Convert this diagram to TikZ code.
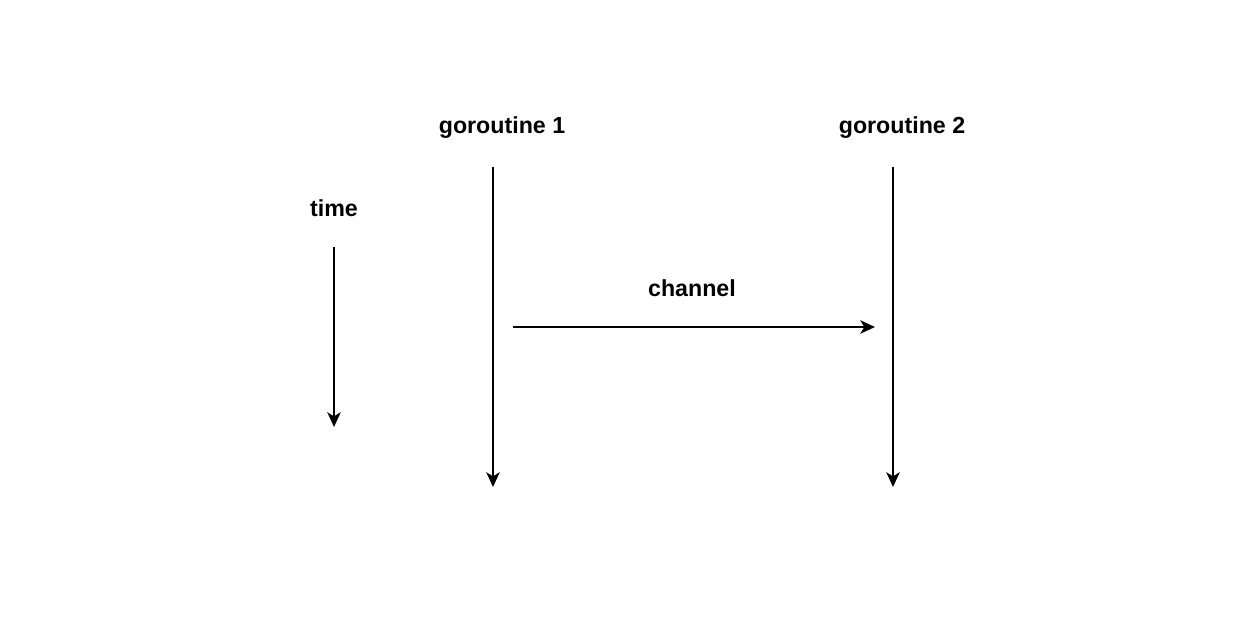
\documentclass[tikz,border=0pt]{standalone}
\usepackage{fontspec}
\setmainfont{Liberation Sans}
\usetikzlibrary{arrows.meta}
\begin{document}
\begin{tikzpicture}[x=0.75pt,y=-0.75pt,
  lbl/.style={font=\bfseries\fontsize{17.4}{20}\selectfont,inner sep=0pt},
  arr/.style={line width=1.5pt,-{Stealth[length=11pt,width=10pt,inset=3pt]}}]
\useasboundingbox (0,0) rectangle (1256,632);
\node[lbl] (g1) at (502,128) {goroutine 1};
\node[lbl] (g2) at (902,128) {goroutine 2};
\node[lbl] (t) at (334,208) {time};
\node[lbl] (c) at (692,288) {channel};
\coordinate (g1s) at (493,167); \coordinate (g1e) at (493,487);
\coordinate (g2s) at (893,167); \coordinate (g2e) at (893,487);
\coordinate (ts) at (334,247); \coordinate (te) at (334,427);
\coordinate (cs) at (513,327); \coordinate (ce) at (875,327);
\draw[arr] (g1s) -- (g1e);
\draw[arr] (g2s) -- (g2e);
\draw[arr] (ts) -- (te);
\draw[arr] (cs) -- (ce);
\end{tikzpicture}
\end{document}
